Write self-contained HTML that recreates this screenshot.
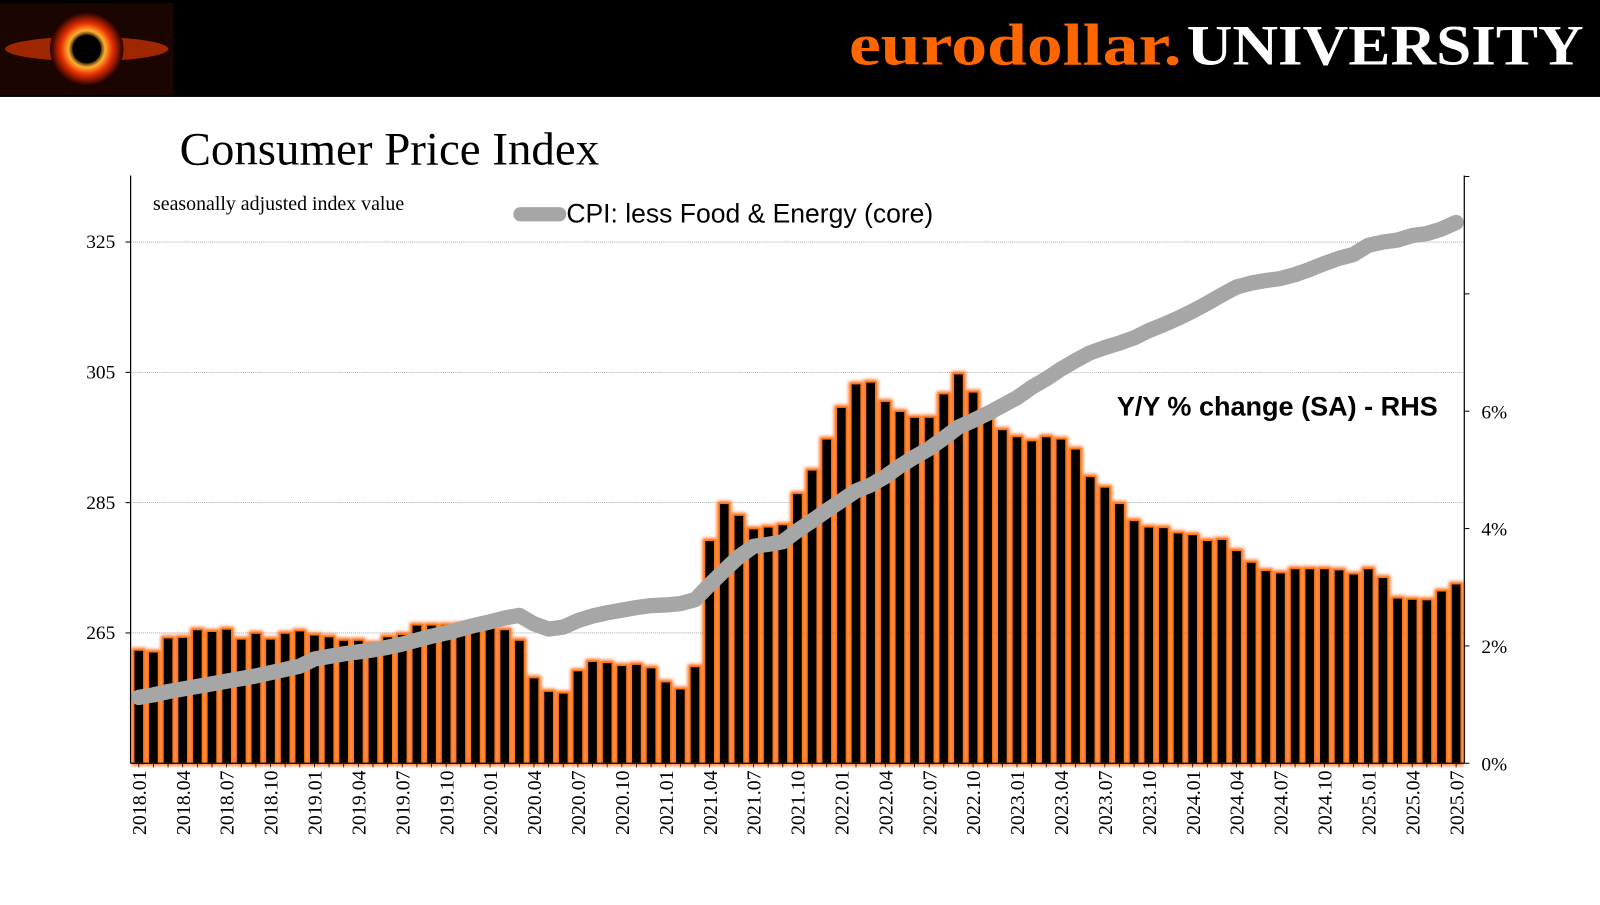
<!DOCTYPE html>
<html><head><meta charset="utf-8"><style>
body{margin:0;width:1600px;height:900px;background:#fff;overflow:hidden;font-family:"Liberation Serif",serif}
</style></head><body>
<svg width="1600" height="900" viewBox="0 0 1568 882" preserveAspectRatio="none" xmlns="http://www.w3.org/2000/svg">
<defs>
<filter id="glow" x="-50%" y="-10%" width="200%" height="120%"><feGaussianBlur stdDeviation="1.8"/></filter>
<radialGradient id="lg" cx="50%" cy="50%" r="50%"><stop offset="0" stop-color="#000"/><stop offset="0.35" stop-color="#000"/><stop offset="0.5" stop-color="#ffb030"/><stop offset="0.7" stop-color="#e83000"/><stop offset="1" stop-color="#200000"/></radialGradient>
</defs>
<rect x="0" y="0" width="1568" height="95" fill="#000"/>
<g>
<rect x="0" y="3" width="170" height="90" fill="#1a0500"/>
<ellipse cx="85" cy="48" rx="80" ry="12" fill="#c03000" opacity="0.8"/>
<circle cx="85" cy="48" r="36" fill="url(#lg)"/>
<circle cx="85" cy="48" r="14" fill="#000"/>
</g>
<text x="832" y="63" textLength="326" lengthAdjust="spacingAndGlyphs" font-size="58" font-weight="bold" fill="#ff6600">eurodollar.</text>
<text x="1163" y="63" textLength="389" lengthAdjust="spacingAndGlyphs" font-size="56" font-weight="bold" fill="#fff">UNIVERSITY</text>
<text x="176" y="161" font-size="46" fill="#000">Consumer Price Index</text>
<g id="plot"></g>
</svg>
<script>
const labels=[];for(let y=2018;y<=2025;y++)for(let m=1;m<=12;m++){if(y==2025&&m>7)break;labels.push(y+'.'+String(m).padStart(2,'0'));}
const yoy=[1.93,1.9,2.14,2.15,2.28,2.25,2.29,2.12,2.22,2.12,2.22,2.26,
2.19,2.16,2.1,2.1,2.05,2.16,2.2,2.36,2.36,2.36,2.37,2.37,
2.36,2.28,2.1,1.46,1.23,1.2,1.58,1.74,1.72,1.67,1.69,1.63,
1.39,1.27,1.65,3.8,4.43,4.23,4.0,4.03,4.07,4.6,5.0,5.53,
6.07,6.47,6.5,6.17,6.0,5.9,5.9,6.3,6.64,6.33,5.98,5.69,
5.57,5.5,5.57,5.53,5.36,4.89,4.71,4.43,4.14,4.03,4.02,3.93,
3.9,3.8,3.82,3.63,3.43,3.29,3.25,3.32,3.32,3.32,3.3,3.23,
3.32,3.17,2.82,2.8,2.79,2.94,3.06];
const core=[255.1,255.5,256.0,256.4,256.8,257.2,257.6,258.0,258.4,258.9,259.4,259.9,
261.0,261.4,261.8,262.1,262.4,262.8,263.3,263.9,264.5,265.0,265.6,266.2,
266.7,267.3,267.7,266.4,265.6,265.9,266.9,267.6,268.1,268.5,268.9,269.2,
269.3,269.5,270.1,272.4,274.6,276.7,278.3,278.6,279.0,280.7,282.2,283.8,
285.3,286.8,287.7,289.0,290.6,292.0,293.3,294.9,296.6,297.6,298.7,299.9,
301.1,302.7,304.0,305.5,306.8,308.0,308.8,309.5,310.3,311.4,312.3,313.3,
314.4,315.6,316.9,318.1,318.7,319.1,319.4,320.0,320.8,321.7,322.5,323.1,
324.5,325.0,325.3,326.0,326.3,327.0,328.0];
const leftTicks=[265,285,305,325];
const rightTicks=[0,2,4,6,8,10];
const X0=128,X1=1435,Y0=172,Y1=748;
const xs=i=>136+i*(1427-136)/(labels.length-1);
const yl=v=>748-(v-245)*(127.7/20);
const yr=v=>748-v*57.5;
const NS='http://www.w3.org/2000/svg';
const g=document.getElementById('plot');
function mk(t,a){const e=document.createElementNS(NS,t);for(const k in a)e.setAttribute(k,a[k]);g.appendChild(e);return e;}
leftTicks.forEach(v=>{
const l=mk('line',{x1:X0,x2:X1,y1:yl(v),y2:yl(v),stroke:'#999','stroke-width':0.8,'stroke-dasharray':'1 1'});


const t=mk('text',{x:113,y:yl(v)+6,'text-anchor':'end','font-size':19});t.textContent=v;


mk('line',{x1:X0-5,x2:X0,y1:yl(v),y2:yl(v),stroke:'#000'});
});
rightTicks.forEach(v=>{
mk('line',{x1:X1,x2:X1+5,y1:yr(v),y2:yr(v),stroke:'#000'});
if(v<=6){const t=mk('text',{x:1477,y:yr(v)+7,'font-size':19,'text-anchor':'end'});t.textContent=v+'%';

}
});
const bw=10;
yoy.forEach((v,i)=>{
const y=yr(v);
const gl=mk('rect',{x:xs(i)-bw/2,y:y,width:bw,height:748-y,fill:'none',stroke:'#ff5a00','stroke-width':4,filter:'url(#glow)'});


const b=mk('rect',{x:xs(i)-bw/2,y:y,width:bw,height:748-y,fill:'#000',stroke:'#ff7a10','stroke-width':1.5});


});
const p=mk('polyline',{points:core.map((v,i)=>xs(i)+','+yl(v)).join(' '),fill:'none',stroke:'#a6a6a6','stroke-width':15,'stroke-linejoin':'round','stroke-linecap':'round'});


mk('line',{x1:X0,x2:X0,y1:Y0,y2:Y1,stroke:'#000','stroke-width':1.2});
mk('line',{x1:X1,x2:X1,y1:Y0,y2:Y1,stroke:'#000','stroke-width':1.2});
mk('line',{x1:X0,x2:X1,y1:Y1,y2:Y1,stroke:'#000','stroke-width':1.2});
labels.forEach((l,i)=>{
mk('line',{x1:xs(i),x2:xs(i),y1:Y1,y2:Y1+4,stroke:'#000','stroke-width':0.8});
if(i%3==0){const t=mk('text',{x:0,y:0,'font-size':19.5,'text-anchor':'end',transform:`translate(${xs(i)+7},755) rotate(-90)`});t.textContent=l;

}
});
let t=mk('text',{x:150,y:206,'font-size':19.5});t.textContent='seasonally adjusted index value';


const ll=mk('line',{x1:510,x2:548,y1:210,y2:210,stroke:'#a6a6a6','stroke-width':14,'stroke-linecap':'round'});


t=mk('text',{x:555,y:218,'font-size':26,'font-family':'Liberation Sans, sans-serif'});t.textContent='CPI: less Food & Energy (core)';


t=mk('text',{x:1409,y:407,'font-size':26.5,'font-weight':'bold','text-anchor':'end','font-family':'Liberation Sans, sans-serif'});t.textContent='Y/Y % change (SA) - RHS';


</script>
</body></html>
